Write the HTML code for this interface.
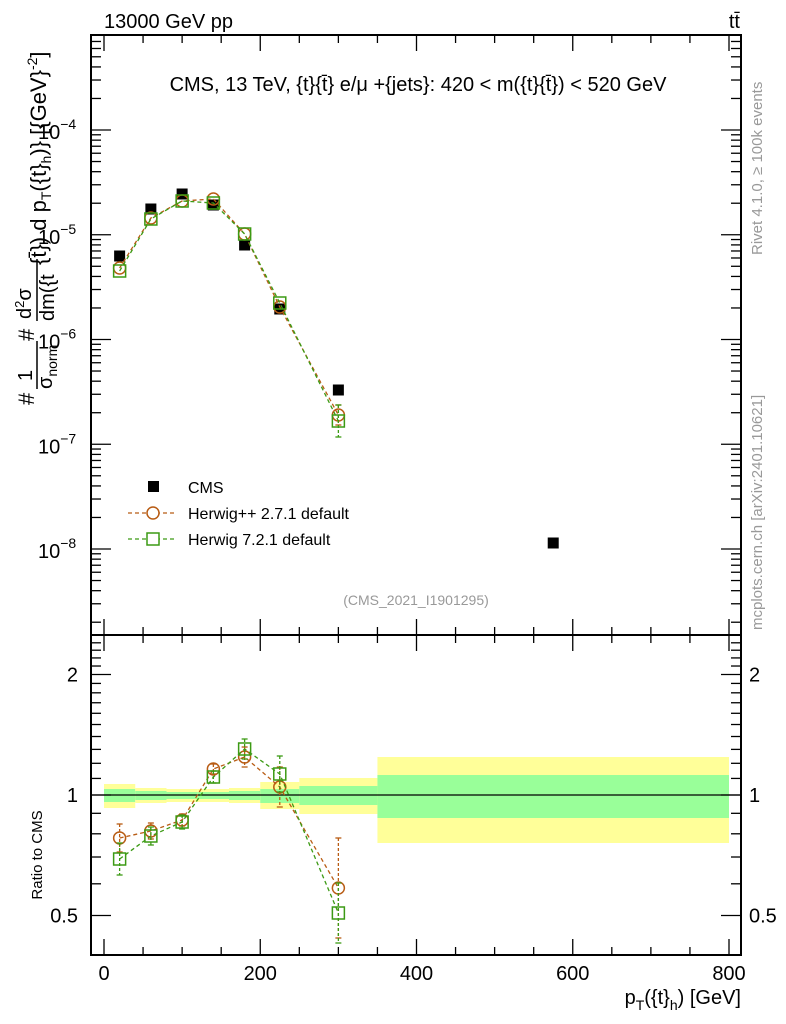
<!DOCTYPE html>
<html><head><meta charset="utf-8"><style>
html,body{margin:0;padding:0;background:#fff}
svg{display:block;font-family:"Liberation Sans",sans-serif}
</style></head><body>
<svg id="s" width="786" height="1024" xmlns="http://www.w3.org/2000/svg">
<rect width="786" height="1024" fill="#fff"/>
<g id="bands"></g>
<g id="ticks" stroke="#000" stroke-width="1.3"></g>
<rect x="91" y="35" width="650" height="600" fill="none" stroke="#000" stroke-width="2"/>
<rect x="91" y="635" width="650" height="320" fill="none" stroke="#000" stroke-width="2"/>
<line x1="91" y1="795" x2="741" y2="795" stroke="#000" stroke-width="1.3"/>
<g id="data"></g>
<text x="104" y="28" font-size="20">13000 GeV pp</text>
<text x="740" y="28" font-size="20" text-anchor="end">tt̄</text>
<text x="418" y="91" font-size="20" text-anchor="middle">CMS, 13 TeV, {t}{t̄} e/μ +{jets}: 420 &lt; m({t}{t̄}) &lt; 520 GeV</text>
<text x="416" y="605" font-size="14" fill="#999" text-anchor="middle">(CMS_2021_I1901295)</text>
<text transform="translate(762,255) rotate(-90)" font-size="15" fill="#999">Rivet 4.1.0, ≥ 100k events</text>
<text transform="translate(762,630) rotate(-90)" font-size="15" fill="#999">mcplots.cern.ch [arXiv:2401.10621]</text>
<text transform="translate(42,855) rotate(-90)" font-size="15" text-anchor="middle">Ratio to CMS</text>
<text x="741" y="1004" font-size="20" text-anchor="end">p<tspan font-size="14" dy="6">T</tspan><tspan dy="-6">({t}</tspan><tspan font-size="14" dy="6">h</tspan><tspan dy="-6">) [GeV]</tspan></text>
<g transform="translate(0,405) rotate(-90)" font-size="22">
<text x="0" y="34">#</text>
<text x="24" y="32" font-size="20">1</text>
<line x1="16" y1="37" x2="64" y2="37" stroke="#000" stroke-width="1.5"/>
<text x="16" y="52" font-size="20">σ<tspan font-size="14" dy="5">norm</tspan></text>
<text x="64" y="34">#</text>
<text x="86" y="31" font-size="20">d<tspan font-size="13" dy="-7">2</tspan><tspan dy="7">σ</tspan></text>
<line x1="84" y1="37" x2="146" y2="37" stroke="#000" stroke-width="1.5"/>
<text x="84" y="54" font-size="20">dm({t</text>
<text x="140" y="46">{t̄}) d p<tspan font-size="14" dy="5">T</tspan><tspan dy="-5">({t}</tspan><tspan font-size="14" dy="5">h</tspan><tspan dy="-5">)} [{GeV}</tspan><tspan font-size="14" dy="-9">-2</tspan><tspan dy="9">]</tspan></text>
</g>
<g font-size="16">
<rect x="148" y="481" width="11" height="11" fill="#000"/>
<text x="188" y="493">CMS</text>
<line x1="128" y1="513" x2="176" y2="513" stroke="#b85c14" stroke-width="1.3" stroke-dasharray="4,3"/>
<circle cx="153" cy="513" r="6" fill="#fff" stroke="#b85c14" stroke-width="1.5"/>
<text x="188" y="519">Herwig++ 2.7.1 default</text>
<line x1="128" y1="539" x2="176" y2="539" stroke="#3c9a14" stroke-width="1.3" stroke-dasharray="4,3"/>
<rect x="147" y="533" width="12" height="12" fill="#fff" stroke="#3c9a14" stroke-width="1.5"/>
<text x="188" y="545">Herwig 7.2.1 default</text>
</g>
<g id="labels" font-size="20"></g>
</svg>
<script>
const NS="http://www.w3.org/2000/svg";
function el(p,t,a,txt){const e=document.createElementNS(NS,t);for(const k in a)e.setAttribute(k,a[k]);if(txt!==undefined)e.textContent=txt;document.getElementById(p).appendChild(e);return e;}
const X=v=>104+v*0.78125;
const Y=v=>130+(-4-Math.log10(v))*104.75;
const R=r=>795-120.5*Math.log2(r);
const bands=[[0,40,784,808,789,802],[40,80,788,803,791,800],[80,120,789,802,792,799],[120,160,789,802,792,799],[160,200,788,803,791,800],[200,250,782,809,789,803],[250,350,778,814,786,805],[350,800,757,843,775,818]];
bands.forEach(b=>{el('bands','rect',{x:X(b[0]),y:b[2],width:X(b[1])-X(b[0]),height:b[3]-b[2],fill:'#ffff99'});
el('bands','rect',{x:X(b[0]),y:b[4],width:X(b[1])-X(b[0]),height:b[5]-b[4],fill:'#99ff99'});});
for(let v=0;v<=800;v+=50){const x=X(v),L=v%200==0?16:8;
[[35,1],[635,-1],[635,1],[955,-1]].forEach(([y,d])=>el('ticks','line',{x1:x,y1:y,x2:x,y2:y+d*L}));
if(v%200==0)el('labels','text',{x:x,y:980,'text-anchor':'middle'},String(v));}
for(let e=-9;e<=-3;e++)for(let m=1;m<=9;m++){const y=Y(m*Math.pow(10,e));if(y<36||y>634)continue;const L=m==1?20:10;
el('ticks','line',{x1:91,y1:y,x2:91+L,y2:y});el('ticks','line',{x1:741,y1:y,x2:741-L,y2:y});
if(m==1){const t=el('labels','text',{x:38,y:y+9},'10');const s=document.createElementNS(NS,'tspan');s.setAttribute('dy','-10');s.setAttribute('font-size','14');s.textContent=String.fromCharCode(8722)+(-e);t.appendChild(s);}}
const rt=[0.4,0.5,0.6,0.7,0.8,0.9,1,1.1,1.2,1.3,1.4,1.5,1.6,1.7,1.8,1.9,2,2.1,2.2,2.3,2.4,2.5];
rt.forEach(r=>{const y=R(r);if(y<636||y>954)return;const maj=(r==0.5||r==1||r==2);const L=maj?20:10;
el('ticks','line',{x1:91,y1:y,x2:91+L,y2:y});el('ticks','line',{x1:741,y1:y,x2:741-L,y2:y});
if(maj){const s=r==0.5?'0.5':String(r);el('labels','text',{x:78,y:y+7,'text-anchor':'end'},s);el('labels','text',{x:749,y:y+7},s);}});
const xs=[20,60,100,140,180,225,300];
const cms=[[20,256],[60,209],[100,194],[140,205],[180,245],[225,309],[300,390],[575,543]];
cms.forEach(p=>el('data','rect',{x:X(p[0])-5.5,y:p[1]-5.5,width:11,height:11,fill:'#000'}));
function series(c,pts,shape,err){const d=pts.map((y,i)=>X(xs[i])+','+y).join(' ');
el('data','polyline',{points:d,fill:'none',stroke:c,'stroke-width':1.3,'stroke-dasharray':'4,3'});
pts.forEach((y,i)=>{const x=X(xs[i]);if(err&&err[i]){el('data','line',{x1:x,y1:y-err[i],x2:x,y2:y+err[i],stroke:c,'stroke-width':1.3,'stroke-dasharray':'3,2'});
el('data','line',{x1:x-3,y1:y-err[i],x2:x+3,y2:y-err[i],stroke:c,'stroke-width':1.3});el('data','line',{x1:x-3,y1:y+err[i],x2:x+3,y2:y+err[i],stroke:c,'stroke-width':1.3});}
if(shape=='c')el('data','circle',{cx:x,cy:y,r:6,fill:'none',stroke:c,'stroke-width':1.5});
else el('data','rect',{x:x-6,y:y-6,width:12,height:12,fill:'none',stroke:c,'stroke-width':1.5});});}
const BR='#b85c14',GR='#3c9a14';
series(BR,[268,218,201,199,234,307,415],'c',[0,0,0,0,0,0,10]);
series(GR,[271,219,201,203,234,303,421],'s',[0,0,0,0,0,0,16]);
series(BR,[838,831,820,769,757,787,888],'c',[14,8,6,5,10,20,50]);
series(GR,[859,836,822,777,749,774,913],'s',[16,9,7,6,10,18,30]);
</script>
</body></html>
